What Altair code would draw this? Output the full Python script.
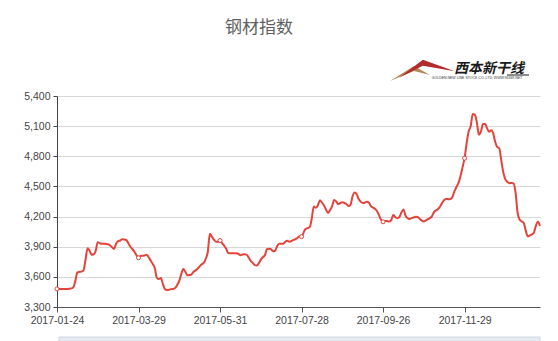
import altair as alt
import pandas as pd

# Steel index values (trading-day sequence)
values = [
    3480, 3480, 3480, 3480, 3480, 3480, 3482, 3485, 3495, 3560,
    3645, 3650, 3652, 3665, 3770, 3885, 3860, 3820, 3825, 3860,
    3945, 3935, 3930, 3930, 3928, 3925, 3915, 3895, 3878, 3930,
    3955, 3962, 3975, 3972, 3965, 3935, 3900, 3875, 3850, 3815,
    3790, 3808, 3810, 3812, 3820, 3795, 3760, 3728, 3685, 3590,
    3578, 3588, 3525, 3478, 3470, 3472, 3478, 3480, 3490, 3520,
    3560, 3630, 3677, 3650, 3615, 3618, 3625, 3650, 3665, 3680,
    3705, 3725, 3740, 3780, 3850, 4030, 4000, 3970, 3950, 3950,
    3962, 3935, 3910, 3880, 3838, 3836, 3836, 3836, 3836, 3830,
    3816, 3822, 3826, 3820, 3795, 3760, 3740, 3718, 3712, 3735,
    3772, 3795, 3815, 3875, 3880, 3875, 3855, 3860, 3905, 3930,
    3930, 3929, 3950, 3960, 3950, 3955, 3968, 3975, 3988, 4005,
    4000, 4040, 4078, 4085, 4095, 4180, 4300, 4288, 4310, 4362,
    4340, 4310, 4270, 4236, 4265, 4305, 4365, 4350, 4322, 4335,
    4343, 4335, 4325, 4305, 4315, 4400, 4440, 4425, 4375, 4350,
    4335, 4338, 4348, 4340, 4305, 4290, 4278, 4255, 4215, 4168,
    4148, 4155, 4156, 4150, 4165, 4215, 4195, 4184, 4196, 4240,
    4270, 4210, 4185, 4175, 4185, 4190, 4198, 4195, 4176, 4160,
    4152, 4162, 4175, 4185, 4205, 4245, 4262, 4275, 4300, 4338,
    4365, 4375, 4373, 4375, 4395, 4450, 4495, 4535, 4605, 4690,
    4781, 4930, 5050, 5100, 5222, 5215, 5140, 5015, 5045, 5120,
    5125, 5080, 5045, 5058, 5030, 4945, 4893, 4880, 4760, 4640,
    4570, 4545, 4532, 4535, 4530, 4440, 4240, 4170, 4152, 4138,
    4060, 4002, 4012, 4022, 4040, 4110, 4148, 4108,
]

tick_idx = [0, 40, 80, 120, 160, 200]
tick_labels = ["2017-01-24", "2017-03-29", "2017-05-31",
               "2017-07-28", "2017-09-26", "2017-11-29"]
y_ticks = [3300, 3600, 3900, 4200, 4500, 4800, 5100, 5400]

title_text = "钢材指数"
logo_text = "西本新干线"
logo_sub = "GOLDEN NEW LINE STOCK CO.,LTD.      WWW.96369.NET"

df = pd.DataFrame({"idx": list(range(len(values))), "value": values})

label_expr = " : ".join(
    f"datum.value == {i} ? '{l}'" for i, l in zip(tick_idx, tick_labels)
) + " : ''"

FONT = "Liberation Sans"
RED = "#e5433a"

x_enc = alt.X(
    "idx:Q",
    scale=alt.Scale(domain=[0, len(values) - 1], nice=False, zero=False),
    axis=alt.Axis(values=tick_idx, tickCount=len(tick_idx), labelExpr=label_expr,
                  title=None, grid=False,
                  domainColor="#555", tickColor="#555", tickSize=5,
                  labelPadding=3, labelColor="#444", labelFont=FONT,
                  labelFontSize=10.5, labelFlush=False, labelOverlap=False),
)
y_enc = alt.Y(
    "value:Q",
    scale=alt.Scale(domain=[3300, 5400], nice=False, zero=False),
    axis=alt.Axis(values=y_ticks, tickCount=len(y_ticks), format=",d",
                  title=None, grid=True,
                  gridColor="#d8d8d8", domainColor="#444", tickColor="#444",
                  tickSize=4, labelPadding=3, labelColor="#444",
                  labelFont=FONT, labelFontSize=10.5, labelOverlap=False,
                  labelFlush=False),
)

line = alt.Chart(df).mark_line(color=RED, strokeWidth=2, interpolate="monotone").encode(
    x=x_enc, y=y_enc
)

pts = alt.Chart(df).transform_filter(
    alt.FieldOneOfPredicate(field="idx", oneOf=tick_idx)
).mark_point(shape="circle", filled=True, fill="white", stroke=RED,
             strokeWidth=1, size=16, opacity=1).encode(
    x=alt.X("idx:Q"), y=alt.Y("value:Q")
)

one = pd.DataFrame({"a": [0]})

title = alt.Chart(one).mark_text(
    text=title_text, font="Noto Sans CJK SC", fontSize=17, color="#5f5f5f",
    align="center", baseline="middle"
).encode(x=alt.value(202), y=alt.value(-68))

mount_tan = alt.Chart(one).mark_point(
    shape="M-1,0.4L0.2,-0.35L1,0.1L0.2,-0.1Z", filled=True, fill="#b08a5a",
    strokeWidth=0, size=1600, opacity=1
).encode(x=alt.value(353), y=alt.value(-23))

mount_red = alt.Chart(one).mark_point(
    shape="M-1,0.35L-0.15,-0.3L1,0.12L-0.15,-0.08Z", filled=True, fill="#b52a2a",
    strokeWidth=0, size=3100, opacity=1
).encode(x=alt.value(370), y=alt.value(-28))

logo = alt.Chart(one).mark_text(
    text=logo_text, font="Noto Sans CJK SC", fontSize=14, fontWeight="bold",
    fontStyle="italic", color="#1a1a1a", align="center", baseline="middle"
).encode(x=alt.value(432), y=alt.value(-27))

logo_rule = alt.Chart(one).mark_rule(color="#1a1a1a", strokeWidth=1).encode(
    x=alt.value(450), x2=alt.value(472), y=alt.value(-21)
)

logo_small = alt.Chart(one).mark_text(
    text=logo_sub, font=FONT, fontSize=3.5, color="#333",
    align="center", baseline="middle"
).encode(x=alt.value(420), y=alt.value(-18))

slider = alt.Chart(one).mark_rect(fill="#e6eaf1", stroke="#d0d6e0",
                                  strokeWidth=1).encode(
    x=alt.value(2), x2=alt.value(483), y=alt.value(241), y2=alt.value(252)
)

chart = alt.layer(
    line, pts, title, mount_tan, mount_red, logo, logo_rule, logo_small, slider
).properties(
    width=483, height=211,
    padding={"left": 57, "top": 96, "right": 18, "bottom": 34},
    autosize=alt.AutoSizeParams(type="none"),
    background="white",
).configure_view(strokeWidth=0)

chart.save("out.html", embed_options={"renderer": "svg", "actions": False})
